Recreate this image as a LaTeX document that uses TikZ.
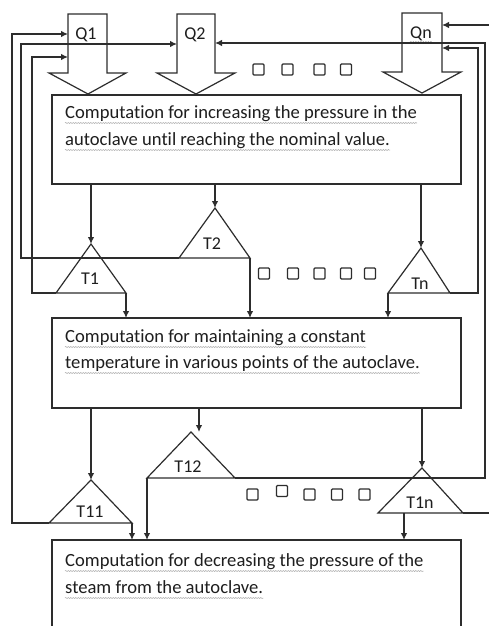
\documentclass[tikz,border=0pt]{standalone}
\usepackage{fontspec}
\setmainfont{Carlito}[Ligatures=NoCommon]
\usetikzlibrary{arrows.meta,decorations.pathmorphing}
\definecolor{linec}{RGB}{45,45,45}
\definecolor{textc}{RGB}{30,30,30}
\begin{document}
\begin{tikzpicture}[x=1pt,y=-1pt]
\tikzset{
 ln/.style={line width=1.2pt, draw=linec, line join=miter},
 arr/.style={ln, -{Latex[length=7pt,width=6.5pt]}},
 sqbox/.style={draw=linec, line width=1.1pt, rounded corners=1pt, minimum size=11pt, inner sep=0pt},
 boxn/.style={draw=linec, line width=1.2pt, inner sep=0pt, outer sep=0pt},
 txt/.style={font=\fontsize{18.6}{22}\selectfont, text=textc, inner sep=0pt, anchor=base west},
 lab/.style={font=\fontsize{18}{20}\selectfont, text=textc, inner sep=0pt, anchor=base},
 squig/.style={draw=gray!65, line width=0.5pt, decorate, decoration={snake, amplitude=0.6pt, segment length=2.5pt}},
}
\useasboundingbox (0,0) rectangle (489,626);
\fill[white] (0,0) rectangle (489,626);

% boxes
\node[boxn, minimum width=409pt, minimum height=89pt] (B1) at (256.5,139.5) {};
\node[boxn, minimum width=409pt, minimum height=90pt] (B2) at (256.5,363) {};
\node[boxn, minimum width=409pt, minimum height=120pt] (B3) at (256.5,600) {};

% box texts
\node[txt] (t1a) at (65,118) {Computation for increasing the pressure in the};
\node[txt] (t1b) at (65,145) {autoclave until reaching the nominal value.};
\node[txt] (t2a) at (65,342) {Computation for maintaining a constant};
\node[txt] (t2b) at (65,368) {temperature in various points of the autoclave.};
\node[txt] (t3a) at (65,566) {Computation for decreasing the pressure of the};
\node[txt] (t3b) at (65,593) {steam from the autoclave.};
\foreach \t in {t1a,t1b,t2a,t2b,t3a,t3b}{
  \draw[squig] ([yshift=-5pt]\t.base west) -- ([yshift=-5pt]\t.base east);
}

% block arrows Q
\draw[ln] (68,14) -- (107,14) -- (107,73) -- (126,73) -- (88,94) -- (49,73) -- (68,73) -- cycle;
\draw[ln] (177,14) -- (215,14) -- (215,73) -- (235,73) -- (196,94) -- (157,73) -- (177,73) -- cycle;
\draw[ln] (402,13) -- (442,13) -- (442,72) -- (461,72) -- (422,93) -- (383,72) -- (402,72) -- cycle;
\node[lab] (Q1) at (86,40) {Q1};
\node[lab] (Q2) at (195,40) {Q2};
\node[lab] (Qn) at (421,38) {Qn};
\draw[squig] ([yshift=-4pt]Qn.base west) -- ([yshift=-4pt]Qn.base east);

% entry points on the Q stems
\coordinate (Q1L1) at (68,34);
\coordinate (Q1L2) at (68,57);
\coordinate (Q2L) at (177,44);
\coordinate (Q2R) at (215,43);
\coordinate (QnR1) at (442,25);
\coordinate (QnR2) at (442,48);
\coordinate (E1) at (489,25);
\coordinate (E2) at (489,513);

% triangles
\coordinate (T1a) at (91,244); \coordinate (T1l) at (56,293); \coordinate (T1r) at (126,293);
\coordinate (T2a) at (215,208); \coordinate (T2l) at (179,258); \coordinate (T2r) at (250,258);
\coordinate (Tna) at (421,248); \coordinate (Tnl) at (388,293); \coordinate (Tnr) at (450,293);
\coordinate (T11a) at (91,480); \coordinate (T11l) at (49,523); \coordinate (T11r) at (132,523);
\coordinate (T12a) at (191,432); \coordinate (T12l) at (147,478); \coordinate (T12r) at (235,478);
\coordinate (T1na) at (422,468); \coordinate (T1nl) at (378,513); \coordinate (T1nr) at (463,513);
\coordinate (T12in) at (199,432);
\coordinate (T1nout) at (404,513);
\foreach \t in {T1,T2,Tn,T11,T12,T1n}{
  \draw[ln] (\t a) -- (\t l) -- (\t r) -- cycle;
}
\node[lab] (LT1) at (90,284) {T1};
\node[lab] (LT2) at (212,249) {T2};
\node[lab] (LTn) at (420,289) {Tn};
\node[lab] (LT11) at (90,517) {T11};
\node[lab] (LT12) at (188,472) {T12};
\node[lab] (LT1n) at (420,508) {T1n};

% feed-back corners
\coordinate (F11) at (12,523);
\coordinate (F2) at (21,258);
\coordinate (F1) at (32,293);
\coordinate (Fn) at (478,293);
\coordinate (F12) at (485,478);

% connectors box1 -> triangles
\draw[arr] (B1.south -| T1a) -- (T1a);
\draw[arr] (B1.south -| T2a) -- (T2a);
\draw[arr] (B1.south -| Tna) -- (Tna);
% triangles -> box2
\draw[arr] (T1r) -- (T1r |- B2.north);
\draw[arr] (T2r) -- (T2r |- B2.north);
\draw[arr] (Tnl) -- (Tnl |- B2.north);
% box2 -> triangles
\draw[arr] (B2.south -| T11a) -- (T11a);
\draw[arr] (B2.south -| T12in) -- (T12in);
\draw[arr] (B2.south -| T1na) -- (T1na);
% triangles -> box3
\draw[arr] (T11r) -- (T11r |- B3.north);
\draw[arr] (T12l) -- (T12l |- B3.north);
\draw[arr] (T1nout) -- (T1nout |- B3.north);

% feedback lines
\draw[arr] (T11l) -- (F11) -- (F11 |- Q1L1) -- (Q1L1);
\draw[arr] (T1l) -- (F1) -- (F1 |- Q1L2) -- (Q1L2);
\draw[arr] (T2l) -- (F2) -- (F2 |- Q2L) -- (Q2L);
\draw[arr] (T12r) -- (F12) -- (F12 |- Q2R) -- (Q2R);
\draw[arr] (Tnr) -- (Fn) -- (Fn |- QnR2) -- (QnR2);
\draw[arr] (E1) -- (QnR1);
\draw[ln] (T1nr) -- (E2);

% small squares
\foreach \x in {258.5,287.5,319.5,346}{ \node[sqbox] at (\x,69.5) {}; }
\foreach \x in {264,293,319.5,346,370}{ \node[sqbox] at (\x,273.5) {}; }
\node[sqbox] (s31) at (252.5,494.5) {};
\node[sqbox] (s32) at (282,491) {};
\node[sqbox] (s33) at (309.5,494.5) {};
\node[sqbox] (s34) at (337,494.5) {};
\node[sqbox] (s35) at (364.5,494.5) {};
\end{tikzpicture}
\end{document}
